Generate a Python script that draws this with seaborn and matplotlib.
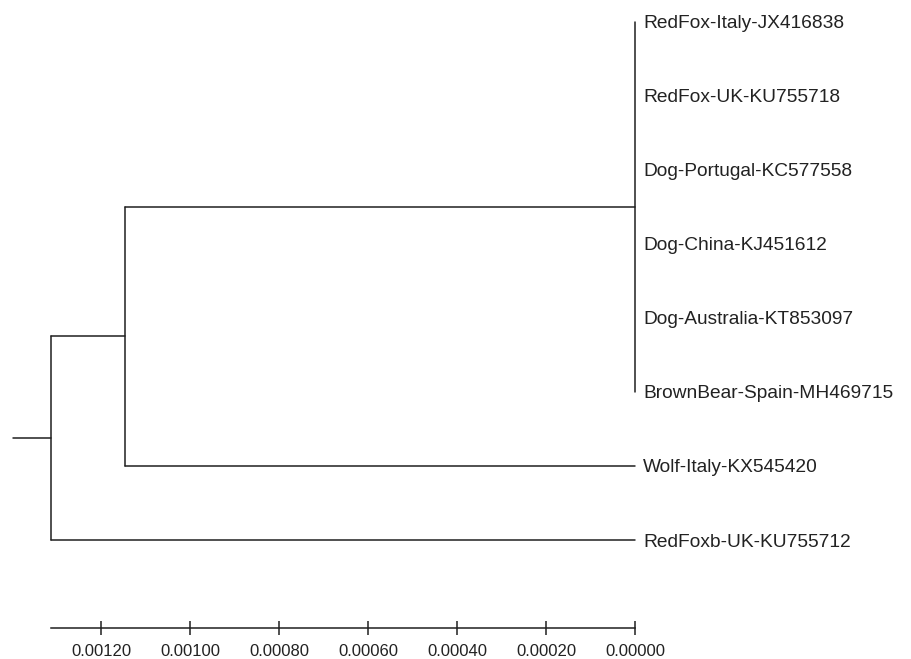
"""
Phylogenetic tree - redrawn with seaborn
"""

import numpy as np
import pandas as pd
import matplotlib
matplotlib.use('Agg')
import matplotlib.pyplot as plt
import seaborn as sns

# ──────────────────────────────────────────────
# 1. DATA
# ──────────────────────────────────────────────
leaf_names = [
    'RedFox-Italy-JX416838',
    'RedFox-UK-KU755718',
    'Dog-Portugal-KC577558',
    'Dog-China-KJ451612',
    'Dog-Australia-KT853097',
    'BrownBear-Spain-MH469715',
    'Wolf-Italy-KX545420',
    'RedFoxb-UK-KU755712',
]
leaf_heights = [0.0, 0.0, 0.0, 0.0, 0.0, 0.0, 0.0, 0.0]

# internal nodes: name -> (children, height); ints are leaf indices
clade_children = {
    'tips':    [0, 1, 2, 3, 4, 5],
    'ingroup': ['tips', 6],
    'root':    ['ingroup', 7],
}
clade_heights = {
    'tips':    0.0,
    'ingroup': 0.001146,
    'root':    0.001312,
}
root_branch = 0.000086

scale_ticks = [0.0012, 0.0010, 0.0008, 0.0006, 0.0004, 0.0002, 0.0]

# ──────────────────────────────────────────────
# 2. BUILD SEGMENTS
# ──────────────────────────────────────────────
rows = []

def add_seg(x0, y0, x1, y1):
    sid = len(rows) // 2
    rows.append({'seg': sid, 'x': x0, 'y': y0})
    rows.append({'seg': sid, 'x': x1, 'y': y1})

def walk(node):
    if isinstance(node, int):
        return leaf_heights[node], float(node)
    h = clade_heights[node]
    ys = []
    for child in clade_children[node]:
        cx, cy = walk(child)
        if cx != h:
            add_seg(h, cy, cx, cy)
        ys.append(cy)
    add_seg(h, min(ys), h, max(ys))
    return h, (min(ys) + max(ys)) / 2

rx, ry = walk('root')
add_seg(rx + root_branch, ry, rx, ry)
seg_df = pd.DataFrame(rows)

# ──────────────────────────────────────────────
# 3. PLOT
# ──────────────────────────────────────────────
sns.set_theme(style='white')
plt.rcParams['font.family'] = ['Liberation Sans', 'DejaVu Sans']

LINE = '#1f1f1f'

fig = plt.figure(figsize=(9.11, 6.59), dpi=100)
ax = fig.add_axes([0, 0, 1, 1])

sns.lineplot(data=seg_df, x='x', y='y', units='seg', estimator=None,
             sort=False, color=LINE, linewidth=1.1, ax=ax)

for i, name in enumerate(leaf_names):
    ax.annotate(name, xy=(leaf_heights[i], i), xytext=(5.8, 0),
                textcoords='offset points', va='center_baseline', ha='left',
                fontsize=13.8, color='#222222')

ax.set_xlim(0.001427, -0.000620)
ax.set_ylim(8.608, -0.297)
ax.set_xlabel('')
ax.set_ylabel('')

for side in ['top', 'left', 'right']:
    ax.spines[side].set_visible(False)
ax.spines['bottom'].set_position(('data', 8.19))
ax.spines['bottom'].set_bounds(0, clade_heights['root'])
ax.spines['bottom'].set_color(LINE)
ax.spines['bottom'].set_linewidth(1.1)

ax.set_xticks(scale_ticks)
ax.set_xticklabels([f'{t:.5f}' for t in scale_ticks],
                   fontsize=12, color='#222222')
ax.set_yticks([])
ax.tick_params(axis='x', direction='inout', length=9.5, width=1.1,
               color=LINE, pad=6.5, bottom=True)

plt.savefig('out.png', dpi=100)
